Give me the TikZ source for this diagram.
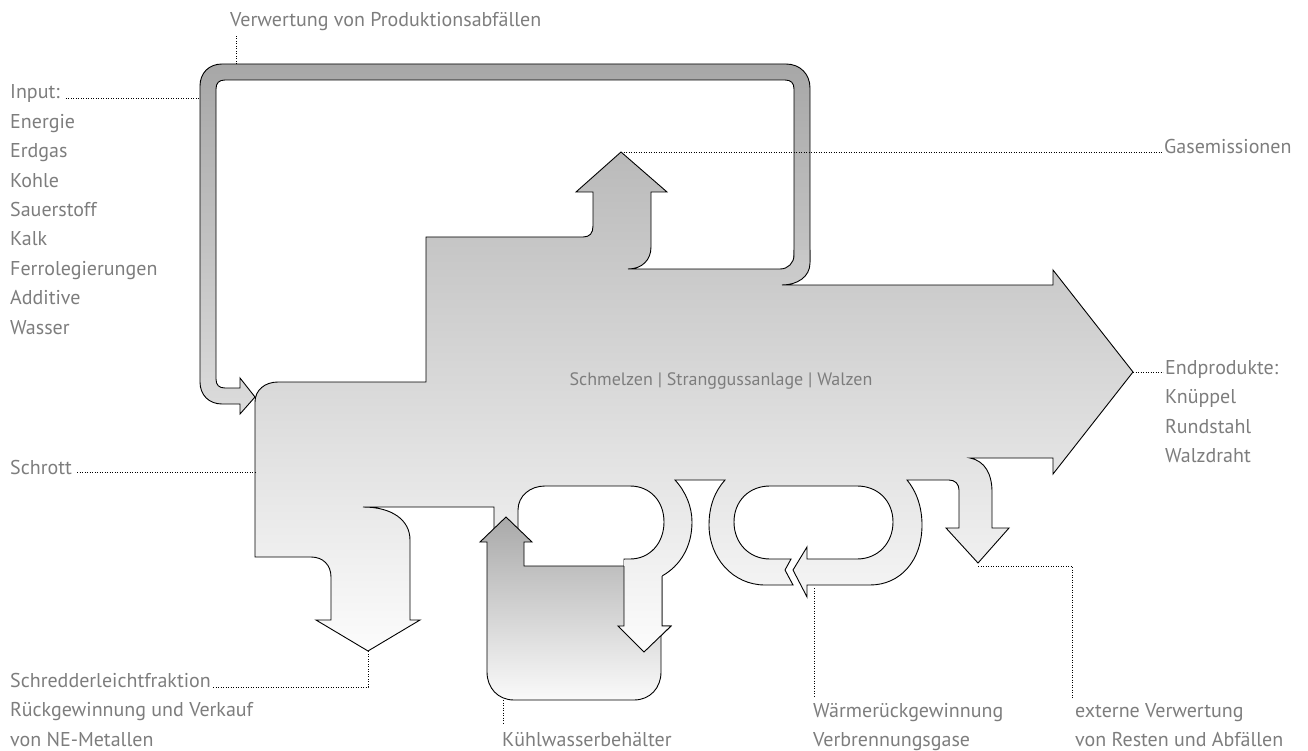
\documentclass[tikz,border=0pt]{standalone}
\usepackage{fontspec}
\setmainfont{PT Sans}
\definecolor{labelgray}{HTML}{7D7D7D}
\definecolor{bodytop}{HTML}{BABABA}
\definecolor{bodybot}{HTML}{FCFCFC}
\definecolor{looptop}{HTML}{A7A7A7}
\definecolor{loopbot}{HTML}{DCDCDC}
\definecolor{tanktop}{HTML}{A9A9A9}
\definecolor{tankbot}{HTML}{FAFAFA}
\tikzset{
  flow/.style={draw=black, line width=0.9pt, line join=miter},
  bodyfill/.style={top color=bodytop, bottom color=bodybot},
  leader/.style={line width=0.8pt, dash pattern=on 0.8pt off 1.7pt},
  lbl/.style={anchor=base west, inner sep=0pt, text=labelgray, font=\fontsize{20}{24}\selectfont},
}
% outline of the melting/casting/rolling flow (open at the join with the return loop)
\newcommand\bodyline{%
  (810,250) -- (810,263) .. controls (810,277) and (797,285) .. (782,285)
  -- (1053,285) -- (1053,270) -- (1133,372) -- (1053,474) -- (1053,458)
  -- (970,458) .. controls (985,461) and (992,474) .. (992,492)
  -- (992,528) -- (1009,528) -- (978,563) -- (946,528) -- (959,528)
  -- (959,490) .. controls (959,484) and (955,480) .. (949,480)
  -- (907,480) .. controls (917,492) and (922,508) .. (922,525)
  .. controls (922,561) and (900,585) .. (870,585)
  -- (807,585) -- (807,597) -- (793,570) -- (807,547) -- (807,559)
  -- (857,559) .. controls (878,559) and (893,543) .. (893,522)
  .. controls (893,501) and (878,486) .. (857,486)
  -- (770,486) .. controls (749,486) and (734,501) .. (734,522)
  .. controls (734,543) and (749,559) .. (770,559)
  -- (791,559) -- (785,570) -- (793,585)
  -- (765,585) .. controls (733,585) and (709,558) .. (709,525)
  .. controls (709,506) and (715,491) .. (725,480)
  -- (675,480) .. controls (686,492) and (692,507) .. (692,522)
  .. controls (692,547) and (680,566) .. (662,576)
  -- (662,626) -- (671,626) -- (644,652) -- (618,626) -- (624,626)
  -- (624,559) -- (630,559) .. controls (650,559) and (664,543) .. (664,522)
  .. controls (664,501) and (650,486) .. (630,486)
  -- (545,486) .. controls (530,486) and (518,496) .. (518,510)
  -- (518,540) -- (494,540) -- (494,507)
  -- (363,507) .. controls (392,507) and (410,520) .. (410,540)
  -- (410,620) -- (420,620) -- (368,651) -- (316,620) -- (331,620)
  -- (331,577) .. controls (331,565) and (323,557) .. (311,557)
  -- (255,557) -- (255,402) .. controls (255,390) and (265,382) .. (278,382)
  -- (426,382) -- (426,237)
  -- (583,237) .. controls (590,237) and (593,233) .. (593,226)
  -- (593,192) -- (576,192) -- (621,152) -- (667,192) -- (651,192)
  -- (651,247) .. controls (651,260) and (642,269) .. (628,269)
  -- (780,269) .. controls (788,269) and (794,263) .. (794,255)
  -- (794,250)}
\begin{document}
\begin{tikzpicture}[x=1pt, y=-1pt]
  \useasboundingbox (0,0) rectangle (1308,751);
  % return loop: Verwertung von Produktionsabfaellen
  \shade[flow, top color=looptop, bottom color=loopbot]
    (810,262) -- (810,88) .. controls (810,74) and (800,64) .. (786,64)
    -- (222,64) .. controls (209,64) and (200,73) .. (200,86)
    -- (200,382) .. controls (200,395) and (209,404) .. (222,404)
    -- (240,404) -- (240,414) -- (255,397) -- (240,378) -- (240,388)
    -- (225,388) .. controls (219,388) and (216,385) .. (216,379)
    -- (216,89) .. controls (216,83) and (219,80) .. (225,80)
    -- (785,80) .. controls (791,80) and (794,83) .. (794,89)
    -- (794,262) -- cycle;
  % main flow
  \begin{scope}
    \clip \bodyline -- cycle;
    \shade[bodyfill] (0,152) rectangle (1308,652);
  \end{scope}
  \draw[flow] \bodyline;
  % cooling water tank with its up arrow
  \shade[flow, top color=tanktop, bottom color=tankbot]
    (506,517) -- (532,542) -- (524,542) -- (524,566) -- (661,566)
    -- (661,672) .. controls (661,688) and (650,700) .. (634,700)
    -- (514,700) .. controls (498,700) and (487,688) .. (487,672)
    -- (487,542) -- (480,542) -- cycle;
  \begin{scope}
    \clip (624,560) -- (624,626) -- (618,626) -- (644,652) -- (671,626) -- (662,626) -- (662,560) -- cycle;
    \shade[bodyfill] (0,152) rectangle (1308,652);
  \end{scope}
  \draw[flow] (624,566) -- (624,626) -- (618,626) -- (644,652) -- (671,626) -- (662,626) -- (662,576);

  \node[lbl, anchor=base, font=\fontsize{18}{22}\selectfont] (proc) at (721,385) {Schmelzen | Stranggussanlage | Walzen};

  % labels
  \node[lbl] (verw) at (230,27) {Verwertung von Produktionsabfällen};
  \foreach \t [count=\i from 0] in {Input:, Energie, Erdgas, Kohle, Sauerstoff, Kalk, Ferrolegierungen, Additive, Wasser}
    \node[lbl] (in\i) at (10,99+29.4*\i) {\t};
  \node[lbl] (gas) at (1164,154) {Gasemissionen};
  \foreach \t [count=\i from 0] in {Endprodukte:, Knüppel, Rundstahl, Walzdraht}
    \node[lbl] (end\i) at (1165,374+29.5*\i) {\t};
  \node[lbl] (schrott) at (10,474) {Schrott};
  \foreach \t [count=\i from 0] in {Schredderleichtfraktion, Rückgewinnung und Verkauf, von NE-Metallen}
    \node[lbl] (shr\i) at (10,687+29.5*\i) {\t};
  \node[lbl] (kuehl) at (502,746) {Kühlwasserbehälter};
  \node[lbl] (waerm0) at (813,717) {Wärmerückgewinnung};
  \node[lbl] (waerm1) at (813,746) {Verbrennungsgase};
  \node[lbl] (ext0) at (1075,717) {externe Verwertung};
  \node[lbl] (ext1) at (1075,746) {von Resten und Abfällen};

  % leader lines
  \coordinate (loopN) at (236,64);
  \coordinate (loopW) at (200,98);
  \coordinate (gasTip) at (621,152);
  \coordinate (endTip) at (1133,372);
  \coordinate (bodyW) at (255,472);
  \coordinate (shrTip) at (368,651);
  \coordinate (tankB) at (503,700);
  \coordinate (heatTip) at (814,588);
  \coordinate (extTip) at (978,566);
  \draw[leader] (loopN) -- ([yshift=-8pt]loopN |- verw.base);
  \draw[leader] ([xshift=6pt]loopW -| in0.east) -- (loopW);
  \draw[leader] (gasTip) -- ([xshift=-2pt]gasTip -| gas.west);
  \draw[leader] (endTip) -- ([xshift=-2pt]endTip -| end0.west);
  \draw[leader] ([xshift=5pt]bodyW -| schrott.east) -- (bodyW);
  \draw[leader] ([xshift=2pt]shr0.base east) -| (shrTip);
  \draw[leader] (tankB) -- ([yshift=7pt]tankB |- kuehl.north);
  \draw[leader] (heatTip) -- ([yshift=5pt]heatTip |- waerm0.north);
  \draw[leader] (extTip) -| ([xshift=-3pt,yshift=5pt]ext0.north west);
\end{tikzpicture}
\end{document}
